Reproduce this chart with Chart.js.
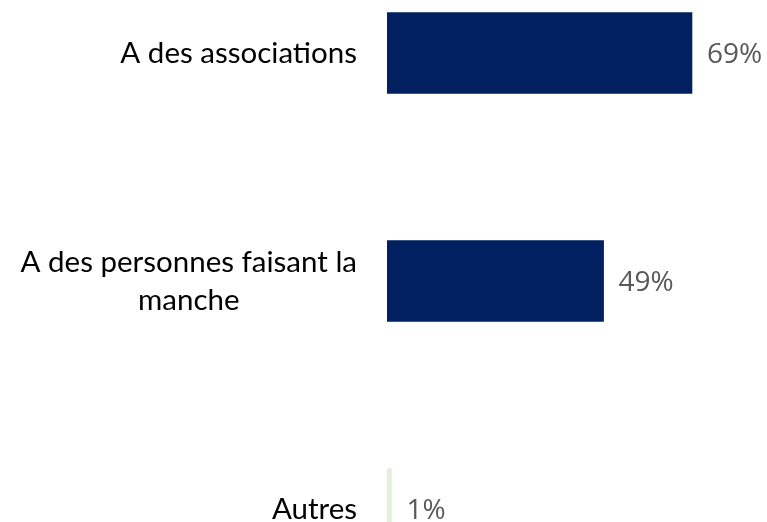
<!DOCTYPE html>
<html>
<head>
<meta charset="utf-8">
<script src="https://cdn.jsdelivr.net/npm/chart.js@4.4.0/dist/chart.umd.min.js"></script>
<style>
html,body{margin:0;padding:0;background:#fff;overflow:hidden;width:767px;height:522px;}
#wrap{position:absolute;left:0;top:-61.5px;width:767px;height:684px;}
.pre{font-family:'Open Sans';position:absolute;left:-999px;}
.pre2{font-family:'Lato';position:absolute;left:-999px;}
</style>
</head>
<body>
<span class="pre">69%</span><span class="pre2">A</span>
<div id="wrap"><canvas id="c"></canvas></div>
<script>
const categories = [["A des associations"], ["A des personnes faisant la", "manche"], ["Autres"]];
const values = [69, 49, 1];
const barColors = ["#002060", "#002060", "#E2EFDA"];
const valueLabels = values.map(v => v + "%");

const labelFont = "29.5px Lato";
const valueFont = "28px 'Open Sans'";

const labelsPlugin = {
  id: 'customLabels',
  afterDatasetsDraw(chart) {
    const ctx = chart.ctx;
    const yScale = chart.scales.y;
    const meta = chart.getDatasetMeta(0);
    ctx.save();
    ctx.font = labelFont;
    ctx.fillStyle = "#000000";
    ctx.textAlign = "center";
    ctx.textBaseline = "middle";
    const lineH = 38;
    categories.forEach((lines, i) => {
      const yc = yScale.getPixelForValue(i);
      const maxW = Math.max(...lines.map(l => ctx.measureText(l).width));
      const xc = 357 - maxW / 2;
      const y0 = yc - (lines.length - 1) * lineH / 2;
      lines.forEach((l, j) => ctx.fillText(l, xc, y0 + j * lineH));
    });
    ctx.font = valueFont;
    ctx.fillStyle = "#595959";
    ctx.textAlign = "left";
    meta.data.forEach((bar, i) => {
      ctx.fillText(valueLabels[i], bar.x + 15, bar.y + 2);
    });
    ctx.restore();
  }
};

function draw() {
  new Chart(document.getElementById('c'), {
    type: 'bar',
    data: {
      labels: categories,
      datasets: [{
        data: values,
        backgroundColor: barColors,
        borderWidth: 0,
        barThickness: 81
      }]
    },
    options: {
      indexAxis: 'y',
      responsive: true,
      maintainAspectRatio: false,
      animation: false,
      layout: { padding: { left: 0, right: 26.4, top: 0, bottom: 0 } },
      plugins: { legend: { display: false }, tooltip: { enabled: false } },
      scales: {
        x: { display: false, min: 0, max: 80 },
        y: {
          grid: { display: false },
          border: { display: false },
          ticks: { display: false },
          afterFit(scale) { scale.width = 387; }
        }
      }
    },
    plugins: [labelsPlugin]
  });
}
Promise.all([document.fonts.load(valueFont), document.fonts.load(labelFont)]).then(draw, draw);
</script>
</body>
</html>
